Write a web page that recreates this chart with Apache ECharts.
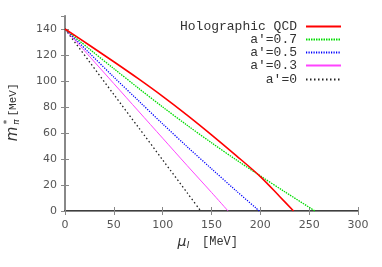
<!DOCTYPE html>
<html><head><meta charset="utf-8">
<script src="https://cdn.jsdelivr.net/npm/echarts@6/dist/echarts.min.js"></script>
<style>html,body{margin:0;padding:0;background:#fff}#c{width:382px;height:267px}</style>
</head><body><div id="c"></div>
<script>
var xTicks = [0, 50, 100, 150, 200, 250, 300];
var yTicks = [0, 20, 40, 60, 80, 100, 120, 140];
var names = ['Holographic QCD', "a\u2032=0.7", "a\u2032=0.5", "a\u2032=0.3", "a\u2032=0"];
var muHolo = [0, 25, 50, 75, 100, 125, 150, 175, 200, 220, 234];
var mHolo  = [140, 127.5, 114.8, 101.8, 88.2, 73.8, 58.6, 42.8, 26.5, 11, 0];
var mu07 = [0, 25, 50, 75, 100, 125, 150, 175, 200, 225, 256];
var m07  = [140, 124.6, 109.5, 94.6, 80, 66, 52.5, 39.5, 27, 14.8, 0];
var mu05 = [0, 25, 50, 75, 100, 125, 150, 175, 199];
var m05  = [140, 121.5, 103, 85, 67, 49.5, 32.5, 15.7, 0];
var mu03 = [0, 25, 50, 75, 100, 125, 150, 167];
var m03  = [140, 119, 98, 77, 56, 35, 14.3, 0];
var mu00 = [0, 25, 50, 75, 100, 125, 139];
var m00  = [140, 114.8, 89.6, 64.5, 39.3, 14.1, 0];

function pairs(a, b) { return a.map(function (v, i) { return [v, b[i]]; }); }
var seriesData = [pairs(muHolo, mHolo), pairs(mu07, m07), pairs(mu05, m05), pairs(mu03, m03), pairs(mu00, m00)];
var styles = [
  {color: '#ff0000', width: 1.6, type: 'solid'},
  {color: '#00dd00', width: 1.3, type: [1.5, 1]},
  {color: '#0000ff', width: 1.3, type: [1.2, 1.3]},
  {color: '#ff44ff', width: 1, type: 'solid'},
  {color: '#222222', width: 1.3, type: [1.5, 2.5]}
];
var series = seriesData.map(function (d, i) {
  return {
    name: names[i], type: 'line', data: d, showSymbol: false, symbol: 'none', smooth: 0.3,
    lineStyle: styles[i], itemStyle: {color: styles[i].color}, animation: false, z: 10 - i
  };
});
var legendTops = [20, 33, 46, 59, 73];
var legends = names.map(function (n, i) {
  return {
    data: [n], right: 40, top: legendTops[i], align: 'right', itemWidth: 35, itemHeight: 10, itemGap: 0,
    padding: 0, selectedMode: false,
    itemStyle: {opacity: 0, borderWidth: 0},
    textStyle: {fontFamily: 'Liberation Mono', fontSize: 13, color: '#333', padding: [0, 4, 0, 0]}
  };
});
var tickLabel = {color: '#555', fontFamily: 'DejaVu Sans', fontSize: 11};
var chart = echarts.init(document.getElementById('c'), null, {renderer: 'canvas'});
chart.setOption({
  animation: false,
  grid: {left: 65, right: 24, top: 16, bottom: 56, show: false},
  legend: legends,
  xAxis: [
    {type: 'value', min: xTicks[0], max: xTicks[xTicks.length - 1], interval: 50, position: 'bottom',
     axisLine: {onZero: false, lineStyle: {color: '#000', width: 1.5}},
     axisTick: {inside: true, length: 4, lineStyle: {color: '#888'}},
     axisLabel: Object.assign({margin: 9}, tickLabel), splitLine: {show: false}},
    {type: 'value', min: xTicks[0], max: xTicks[xTicks.length - 1], interval: 50, position: 'top',
     axisLine: {lineStyle: {color: '#888', width: 1}},
     axisTick: {inside: true, length: 4, lineStyle: {color: '#888'}},
     axisLabel: {show: false}, splitLine: {show: false}}
  ],
  yAxis: [
    {type: 'value', min: 0, max: 150, interval: 20, position: 'left',
     axisLine: {show: true, onZero: false, lineStyle: {color: '#888', width: 2}},
     axisTick: {show: true, inside: true, length: 4, lineStyle: {color: '#888'}},
     axisLabel: Object.assign({margin: 8, showMaxLabel: false, formatter: function (v) { return yTicks.indexOf(v) >= 0 ? String(v) : ''; }}, tickLabel),
     splitLine: {show: false}},
    {type: 'value', min: 0, max: 150, interval: 20, position: 'right',
     axisLine: {show: true, lineStyle: {color: '#888', width: 1}},
     axisTick: {show: true, inside: true, length: 4, lineStyle: {color: '#888'}},
     axisLabel: {show: false}, splitLine: {show: false}}
  ],
  series: series,
  graphic: [
    {type: 'text', x: 13, y: 134, rotation: Math.PI / 2, style: {text: 'm', font: 'italic 15px DejaVu Sans', fill: '#333', align: 'center', verticalAlign: 'middle'}},
    {type: 'text', x: 8, y: 122, rotation: Math.PI / 2, style: {text: '*', font: '9px DejaVu Sans', fill: '#333', align: 'center', verticalAlign: 'middle'}},
    {type: 'text', x: 17, y: 122, rotation: Math.PI / 2, style: {text: '\u03c0', font: 'italic 9px DejaVu Sans', fill: '#333', align: 'center', verticalAlign: 'middle'}},
    {type: 'text', x: 13, y: 100, rotation: Math.PI / 2, style: {text: '[MeV]', font: '11px Liberation Mono', fill: '#333', align: 'center', verticalAlign: 'middle'}},
    {type: 'text', x: 182, y: 242, style: {text: '\u03bc', font: 'italic 14px DejaVu Sans', fill: '#333', align: 'center', verticalAlign: 'middle'}},
    {type: 'text', x: 188, y: 246, style: {text: 'I', font: 'italic 9px DejaVu Sans', fill: '#333', align: 'center', verticalAlign: 'middle'}},
    {type: 'text', x: 220, y: 242, style: {text: '[MeV]', font: '12px Liberation Mono', fill: '#333', align: 'center', verticalAlign: 'middle'}}
  ]
});
</script></body></html>
